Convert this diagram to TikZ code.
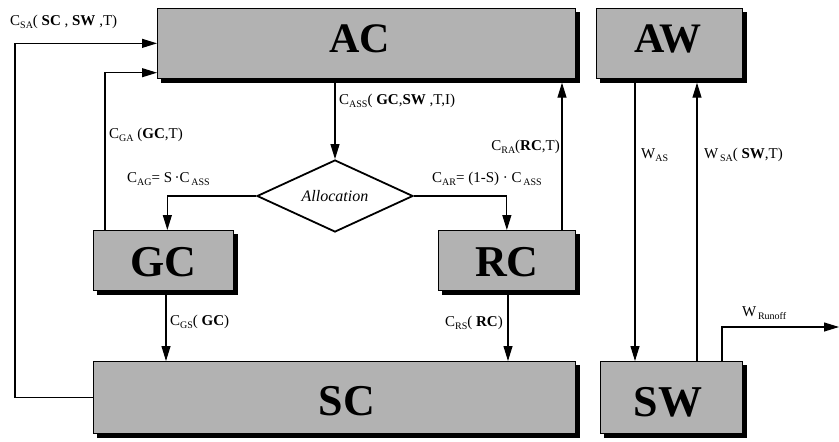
\documentclass[tikz,border=0pt]{standalone}
\usepackage{fontspec}
\setmainfont{Liberation Serif}
\usetikzlibrary{shapes.geometric,arrows.meta}
\newcommand{\lsub}[1]{\raisebox{-0.45ex}{\fontsize{10}{10}\selectfont #1}}
\newcommand{\boxshadow}[1]{%
  \fill[black] ([xshift=4pt]#1.south west) rectangle ([xshift=4pt,yshift=-4pt]#1.south east);
  \fill[black] ([yshift=-4pt]#1.north east) rectangle ([xshift=4pt,yshift=-4pt]#1.south east);}
\tikzset{
  blk/.style={draw=black, line width=0.7pt, fill=black!30, inner sep=0pt, anchor=north west},
  bigtxt/.style={font=\fontsize{44}{44}\selectfont\bfseries},
  arr/.style={line width=1.1pt, -{Triangle[length=15pt,width=9pt]}},
  lab/.style={inner sep=0pt, font=\fontsize{15}{17}\selectfont},
}
\begin{document}
\begin{tikzpicture}[x=1pt,y=-1pt]
\useasboundingbox (0,0) rectangle (839,442);
% boxes
\node[blk, minimum width=418pt, minimum height=70pt] (AC) at (157,8) {};
\node[blk, minimum width=146pt, minimum height=70pt] (AW) at (596,8) {};
\node[blk, minimum width=140pt, minimum height=60pt] (GC) at (93,230) {};
\node[blk, minimum width=137pt, minimum height=60pt] (RC) at (438,230) {};
\node[blk, minimum width=482pt, minimum height=72pt] (SC) at (93,361) {};
\node[blk, minimum width=142pt, minimum height=72pt] (SW) at (600,361) {};
\boxshadow{AC}\boxshadow{AW}\boxshadow{GC}\boxshadow{RC}\boxshadow{SC}\boxshadow{SW}
\node[bigtxt, font=\fontsize{42}{42}\selectfont\bfseries] (ACt) at (360,39) {AC};
\node[bigtxt, font=\fontsize{42}{42}\selectfont\bfseries] (AWt) at (668,39) {AW};
\node[bigtxt] (GCt) at (163,262) {GC};
\node[bigtxt] (RCt) at (507,262) {RC};
\node[bigtxt] (SCt) at (347,401) {SC};
\node[bigtxt] (SWt) at (668,402) {SW};
% diamond
\node[draw, line width=1.8pt, diamond, aspect=2.17, minimum width=156pt, minimum height=72pt, inner sep=0pt,
  font=\fontsize{16}{16}\selectfont\itshape] (dia) at (335,196) {Allocation};
% shadow-bottom coordinates
\coordinate (acb) at ([yshift=-4pt]AC.south);
\coordinate (awb) at ([yshift=-4pt]AW.south);
\coordinate (gcb) at ([yshift=-4pt]GC.south);
\coordinate (rcb) at ([yshift=-4pt]RC.south);
\coordinate (runoff) at (839,327);
% connectors
\draw[arr] (SC.west) -- (SC.west -| 15,0) |- (AC.west);
\draw[arr] (GC.north -| 105,0) |- ([yshift=6pt]AC.south west);
\draw[arr] (acb -| dia.north) -- (dia.north);
\draw[arr] (dia.west) -| ([xshift=4pt]GC.north);
\draw[arr] (dia.east) -| (RC.north);
\draw[arr] (RC.north -| 562,0) -- (acb -| 562,0);
\draw[arr] (awb -| 635,0) -- (SW.north -| 635,0);
\draw[arr] (SW.north -| 697,0) -- (awb -| 697,0);
\draw[arr] (gcb -| 166,0) -- (SC.north -| 166,0);
\draw[arr] (rcb -| 508,0) -- (SC.north -| 508,0);
\draw[arr] (SW.north -| 722,0) |- (runoff);
% labels
\node[lab, anchor=west] (l1) at (10,22) {C\lsub{SA}( \textbf{SC} , \textbf{SW} ,T)};
\node[lab, anchor=west] (l2) at (109,135) {C\lsub{GA} (\textbf{GC},T)};
\node[lab, anchor=west] (l3) at (339,101) {C\lsub{ASS}( \textbf{GC},\textbf{SW} ,T,I)};
\node[lab, anchor=west] (l4) at (127,179) {C\lsub{AG}= S\,·C\lsub{\,ASS}};
\node[lab, anchor=west] (l5) at (432,179) {C\lsub{AR}= (1-S) · C\lsub{\,ASS}};
\node[lab, anchor=east] (l6) at (560,147) {C\lsub{RA}(\textbf{RC},T)};
\node[lab, anchor=west] (l7) at (641,155) {W\lsub{AS}};
\node[lab, anchor=west] (l8) at (704,155) {W\lsub{\,SA}( \textbf{SW},T)};
\node[lab, anchor=west] (l9) at (170,322) {C\lsub{GS}( \textbf{GC})};
\node[lab, anchor=east] (l10) at (503,323) {C\lsub{RS}( \textbf{RC})};
\node[lab, anchor=west] (l11) at (742,313) {W\lsub{\,Runoff}};
\end{tikzpicture}
\end{document}
